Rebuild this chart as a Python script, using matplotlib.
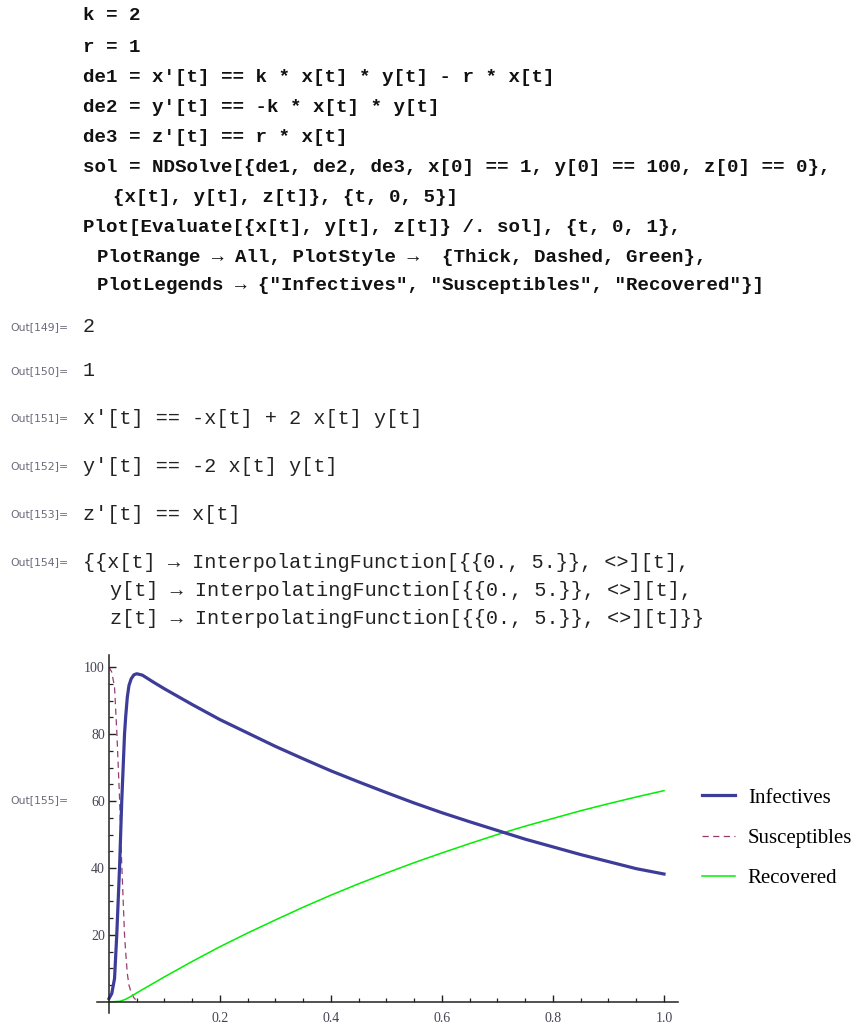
import matplotlib
matplotlib.use("Agg")
import matplotlib.pyplot as plt
from matplotlib.ticker import FixedLocator

# === data ===
t_inf = [0, 0.005, 0.01, 0.014, 0.019, 0.023, 0.028, 0.03, 0.033, 0.036, 0.04, 0.045, 0.05,
         0.06, 0.08, 0.1, 0.15, 0.2, 0.25, 0.3, 0.35, 0.4, 0.45, 0.5, 0.55, 0.6, 0.65,
         0.7, 0.75, 0.8, 0.85, 0.9, 0.95, 1.0]
infectives = [1, 2.5, 7, 20, 40, 60, 80, 85, 91, 94.5, 96.5, 97.7, 98,
              97.6, 95.5, 93.5, 88.8, 84.3, 80.3, 76.3, 72.6, 69, 65.7, 62.5, 59.4, 56.5, 53.8,
              51.2, 48.6, 46.3, 44, 41.9, 39.8, 38.2]

# after ~0.05 the susceptibles curve sits on the axis and is hidden by it
t_sus = [0, 0.005, 0.01, 0.014, 0.019, 0.023, 0.028, 0.03, 0.033, 0.036, 0.04, 0.045, 0.05]
susceptibles = [100, 98.5, 94, 81, 61, 41, 20, 15, 8.5, 5, 2.8, 1.2, 0.4]

t_rec = [0, 0.02, 0.03, 0.04, 0.05, 0.075, 0.1, 0.15, 0.2, 0.25, 0.3, 0.35, 0.4, 0.45, 0.5,
         0.55, 0.6, 0.65, 0.7, 0.75, 0.8, 0.85, 0.9, 0.95, 1.0]
recovered = [0, 0.2, 0.8, 1.7, 2.7, 5.1, 7.5, 12.1, 16.5, 20.6, 24.5, 28.3, 31.9, 35.3, 38.5,
             41.6, 44.5, 47.3, 50, 52.5, 54.8, 57.1, 59.2, 61.2, 63.1]

labels = ["Infectives", "Susceptibles", "Recovered"]
x_major = [0.2, 0.4, 0.6, 0.8, 1.0]
y_major = [20, 40, 60, 80, 100]

# notebook text
input_lines = [
    ("k = 2", 83, 16),
    ("r = 1", 83, 47),
    ("de1 = x'[t] == k * x[t] * y[t] - r * x[t]", 83, 77),
    ("de2 = y'[t] == -k * x[t] * y[t]", 83, 107),
    ("de3 = z'[t] == r * x[t]", 83, 137),
    ("sol = NDSolve[{de1, de2, de3, x[0] == 1, y[0] == 100, z[0] == 0},", 83, 167),
    ("{x[t], y[t], z[t]}, {t, 0, 5}]", 113, 197),
    ("Plot[Evaluate[{x[t], y[t], z[t]} /. sol], {t, 0, 1},", 83, 227),
    ("PlotRange → All, PlotStyle →  {Thick, Dashed, Green},", 97, 257),
    ('PlotLegends → {"Infectives", "Susceptibles", "Recovered"}]', 97, 286),
]
out_labels = [("Out[149]=", 327), ("Out[150]=", 371), ("Out[151]=", 418), ("Out[152]=", 466),
              ("Out[153]=", 514), ("Out[154]=", 562), ("Out[155]=", 800)]
output_lines = [
    ("2", 83, 327),
    ("1", 83, 371),
    ("x′[t] == -x[t] + 2 x[t] y[t]", 83, 418),
    ("y′[t] == -2 x[t] y[t]", 83, 466),
    ("z′[t] == x[t]", 83, 514),
    ("{{x[t] → InterpolatingFunction[{{0., 5.}}, <>][t],", 83, 562),
    ("y[t] → InterpolatingFunction[{{0., 5.}}, <>][t],", 110, 590),
    ("z[t] → InterpolatingFunction[{{0., 5.}}, <>][t]}}", 110, 618),
]

W, H = 855, 1023
mono = ["Liberation Mono", "DejaVu Sans Mono", "DejaVu Sans"]
serif = ["Liberation Serif", "DejaVu Serif"]

fig = plt.figure(figsize=(W / 100, H / 100), dpi=100)

for s, x, y in input_lines:
    fig.text(x / W, 1 - y / H, s, family=mono, weight="bold", fontsize=13.8,
             va="center", ha="left", color="#111111")
for s, y in out_labels:
    fig.text(10 / W, 1 - y / H, s, family=["DejaVu Sans"], fontsize=7.8,
             va="center", ha="left", color="#6b6b7b")
for s, x, y in output_lines:
    fig.text(x / W, 1 - y / H, s, family=mono, fontsize=14.5,
             va="center", ha="left", color="#222222")

# plot area
ax = fig.add_axes([97 / W, 10 / H, (677.7 - 97) / W, (1013 - 655) / H])
ax.plot(t_inf, infectives, color="#3d3d99", lw=2.3, label=labels[0], zorder=2.2)
ax.plot(t_sus, susceptibles, color="#993d71", lw=0.9, dashes=(5, 3.5), label=labels[1], zorder=2)
ax.plot(t_rec, recovered, color="#00ee00", lw=1.1, label=labels[2], zorder=2.1)

ax.set_xlim(-0.0216, 1.0247)
ax.set_ylim(-3.3, 103.6)
for side in ["top", "right"]:
    ax.spines[side].set_visible(False)
ax.spines["left"].set_position(("data", 0))
ax.spines["bottom"].set_position(("data", 0))
for side in ["left", "bottom"]:
    ax.spines[side].set_linewidth(1.1)
    ax.spines[side].set_color("#222222")

ax.xaxis.set_major_locator(FixedLocator(x_major))
ax.yaxis.set_major_locator(FixedLocator(y_major))
ax.xaxis.set_minor_locator(FixedLocator([v / 20 for v in range(1, 21) if v % 4]))
ax.yaxis.set_minor_locator(FixedLocator([v for v in range(5, 101, 5) if v % 20]))
ax.set_xticklabels(["0.2", "0.4", "0.6", "0.8", "1.0"])
ax.set_yticklabels([str(v) for v in y_major])
ax.tick_params(which="major", direction="in", length=5, width=1, color="#222222", pad=7,
               labelsize=10, labelcolor="#444455")
ax.tick_params(which="minor", direction="in", length=3, width=0.9, color="#222222")
for lab in ax.get_xticklabels() + ax.get_yticklabels():
    lab.set_family(serif)
ax.tick_params(axis="y", pad=3)

fig.legend(loc="upper left", bbox_to_anchor=(702 / W, 1 - 788 / H), frameon=False,
           prop={"family": serif, "size": 15}, handlelength=1.6, handletextpad=0.6,
           labelspacing=1.0, borderpad=0, borderaxespad=0)

fig.savefig("out.png", dpi=100)
